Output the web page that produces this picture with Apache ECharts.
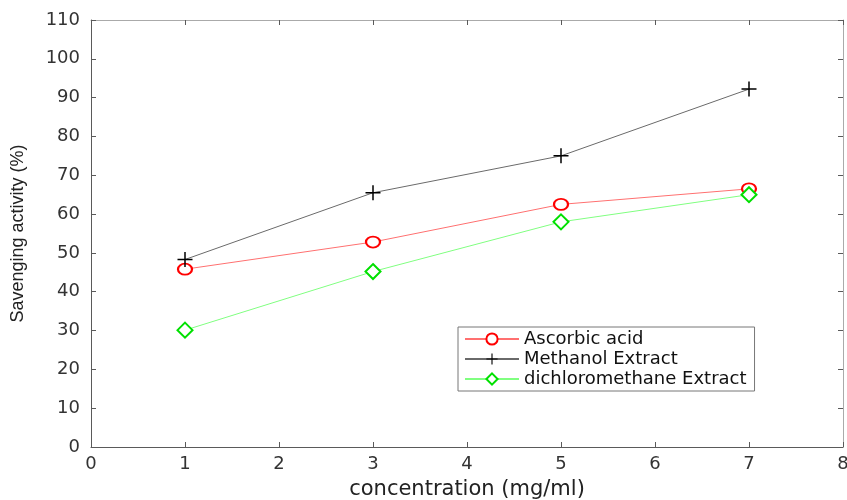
<!DOCTYPE html>
<html>
<head>
<meta charset="utf-8">
<script src="https://cdn.jsdelivr.net/npm/echarts@6/dist/echarts.min.js"></script>
<style>
  html, body { margin: 0; padding: 0; background: #fff; }
  #chart { width: 847px; height: 500px; }
</style>
</head>
<body>
<div id="chart"></div>
<script>
'use strict';
const concentration = [1, 3, 5, 7];
const ascorbicAcid = [45.8, 52.8, 62.5, 66.5];
const methanolExtract = [48.3, 65.5, 75.0, 92.2];
const dcmExtract = [30.1, 45.2, 58.0, 65.0];
const seriesNames = ['Ascorbic acid', 'Methanol Extract', 'dichloromethane Extract'];

// plus marker drawn as a filled cross
const plusPath = 'path://M4.5,0h1v4.5h4.5v1h-4.5v4.5h-1v-4.5h-4.5v-1h4.5z';

function pairs(ys) {
    return concentration.map((x, i) => [x, ys[i]]);
}

let dom = document.getElementById('chart');
let myChart = echarts.init(dom);
const font = 'DejaVu Sans, Liberation Sans, sans-serif';
const axisGray = '#5a5a5a';

let option = {
    animation: false,
    textStyle: { fontFamily: font },
    grid: { left: 91, right: 4, top: 20, bottom: 53, outerBoundsMode: 'none', containLabel: false },
    legend: {
        orient: 'vertical',
        left: 458,
        top: 327,
        itemWidth: 54,
        itemHeight: 14,
        itemGap: 2,
        padding: [3, 8, 3, 6],
        borderColor: '#777',
        borderWidth: 1,
        backgroundColor: '#fff',
        textStyle: { fontSize: 18, color: '#111', fontFamily: font },
        data: seriesNames
    },
    xAxis: [{
        type: 'value',
        min: 0, max: 8, interval: 1,
        name: 'concentration (mg/ml)',
        nameLocation: 'middle',
        nameGap: 32,
        nameTextStyle: { fontSize: 21, color: '#222' },
        axisLine: { onZero: false, lineStyle: { color: axisGray } },
        axisTick: { inside: true, length: 5, lineStyle: { color: axisGray } },
        axisLabel: { fontSize: 18, color: '#333', margin: 8 },
        splitLine: { show: false }
    }, {
        type: 'value', position: 'top',
        min: 0, max: 8, interval: 1,
        axisLine: { show: true, onZero: false, lineStyle: { color: '#aaa' } },
        axisTick: { inside: true, length: 5, lineStyle: { color: axisGray } },
        axisLabel: { show: false },
        splitLine: { show: false }
    }],
    yAxis: [{
        type: 'value',
        min: 0, max: 110, interval: 10,
        name: 'Savenging activity (%)',
        nameLocation: 'middle',
        nameGap: 64,
        nameTextStyle: { fontSize: 18, color: '#222', fontFamily: 'Liberation Sans Narrow, Liberation Sans, sans-serif' },
        axisLine: { show: true, onZero: false, lineStyle: { color: axisGray } },
        axisTick: { show: true, inside: true, length: 5, lineStyle: { color: axisGray } },
        axisLabel: { fontSize: 18, color: '#333', margin: 11 },
        splitLine: { show: false }
    }, {
        type: 'value', position: 'right',
        min: 0, max: 110, interval: 10,
        axisLine: { show: true, onZero: false, lineStyle: { color: '#aaa' } },
        axisTick: { show: true, inside: true, length: 5, lineStyle: { color: axisGray } },
        axisLabel: { show: false },
        splitLine: { show: false }
    }],
    series: [{
        name: seriesNames[0],
        type: 'line',
        data: pairs(ascorbicAcid),
        symbol: 'emptyCircle',
        symbolSize: [14, 11],
        itemStyle: { color: '#ff0000', borderWidth: 1.5 },
        lineStyle: { color: '#ff7070', width: 1 }
    }, {
        name: seriesNames[1],
        type: 'line',
        data: pairs(methanolExtract),
        symbol: plusPath,
        symbolSize: 15,
        itemStyle: { color: '#000' },
        lineStyle: { color: '#6a6a6a', width: 1 }
    }, {
        name: seriesNames[2],
        type: 'line',
        data: pairs(dcmExtract),
        symbol: 'emptyDiamond',
        symbolSize: 15,
        itemStyle: { color: '#00e000', borderWidth: 1.5 },
        lineStyle: { color: '#80ff80', width: 1 }
    }]
};

myChart.setOption(option, true);
</script>
</body>
</html>
